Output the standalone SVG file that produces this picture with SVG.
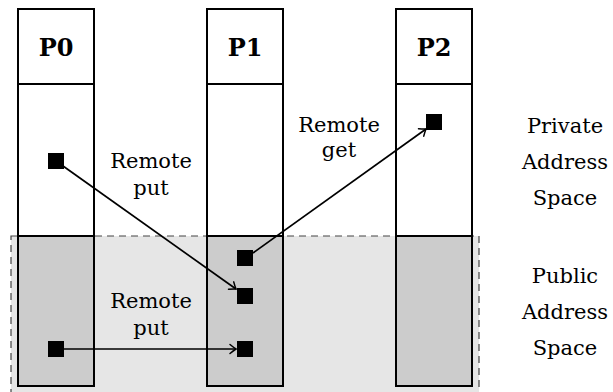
<svg xmlns="http://www.w3.org/2000/svg" width="613" height="392" viewBox="0 0 613 392">
<defs>
<style>
.col{fill:none;stroke:#000;stroke-width:2}
.pub{fill:#cccccc;stroke:none}
.hdr{font-family:"DejaVu Serif","Liberation Serif",serif;font-weight:bold;font-size:24px;text-anchor:middle;fill:#000}
.lbl{font-family:"DejaVu Serif","Liberation Serif",serif;font-size:21px;text-anchor:middle;fill:#000}
.sq{fill:#000}
.arr{fill:none;stroke:#000;stroke-width:1.7;marker-end:url(#ah)}
</style>
<marker id="ah" markerUnits="userSpaceOnUse" markerWidth="14" markerHeight="14" refX="0" refY="0" viewBox="-8 -7 10 14" orient="auto" overflow="visible">
<path d="M-6,-4.5 Q-2,-1.2 0,0 Q-2,1.2 -6,4.5" fill="none" stroke="#000" stroke-width="1.5" stroke-linecap="round"/>
</marker>
</defs>
<rect id="public-region" x="11" y="236" width="468" height="170" fill="#e6e6e6" stroke="#444" stroke-width="1.2" stroke-dasharray="7,5"/>
<g id="P0">
<rect class="pub" x="18" y="236" width="76" height="150"/>
<rect class="col" x="18" y="9" width="76" height="377"/>
<line x1="18" y1="84" x2="94" y2="84" stroke="#000" stroke-width="2"/>
<line x1="18" y1="236" x2="94" y2="236" stroke="#000" stroke-width="2"/>
<text class="hdr" x="56" y="56">P0</text>
<rect class="sq" x="48" y="153" width="16" height="16"/>
<rect class="sq" x="48" y="341" width="16" height="16"/>
</g>
<g id="P1">
<rect class="pub" x="207" y="236" width="76" height="150"/>
<rect class="col" x="207" y="9" width="76" height="377"/>
<line x1="207" y1="84" x2="283" y2="84" stroke="#000" stroke-width="2"/>
<line x1="207" y1="236" x2="283" y2="236" stroke="#000" stroke-width="2"/>
<text class="hdr" x="245" y="56">P1</text>
<rect class="sq" x="237" y="250" width="16" height="16"/>
<rect class="sq" x="237" y="288" width="16" height="16"/>
<rect class="sq" x="237" y="341" width="16" height="16"/>
</g>
<g id="P2">
<rect class="pub" x="396" y="236" width="76" height="150"/>
<rect class="col" x="396" y="9" width="76" height="377"/>
<line x1="396" y1="84" x2="472" y2="84" stroke="#000" stroke-width="2"/>
<line x1="396" y1="236" x2="472" y2="236" stroke="#000" stroke-width="2"/>
<text class="hdr" x="434" y="56">P2</text>
<rect class="sq" x="426" y="114" width="16" height="16"/>
</g>
<g id="connectors">
<line class="arr" x1="63" y1="166" x2="236" y2="289"/>
<line class="arr" x1="64" y1="349" x2="236" y2="349"/>
<line class="arr" x1="253" y1="253" x2="426" y2="129"/>
</g>
<g id="labels">
<text class="lbl" x="151" y="168">Remote</text>
<text class="lbl" x="151" y="195">put</text>
<text class="lbl" x="151" y="308">Remote</text>
<text class="lbl" x="151" y="335">put</text>
<text class="lbl" x="339" y="132">Remote</text>
<text class="lbl" x="339" y="157">get</text>
<text class="lbl" x="565" y="133">Private</text>
<text class="lbl" x="565" y="169">Address</text>
<text class="lbl" x="565" y="205">Space</text>
<text class="lbl" x="565" y="283">Public</text>
<text class="lbl" x="565" y="319">Address</text>
<text class="lbl" x="565" y="355">Space</text>
</g>
</svg>
